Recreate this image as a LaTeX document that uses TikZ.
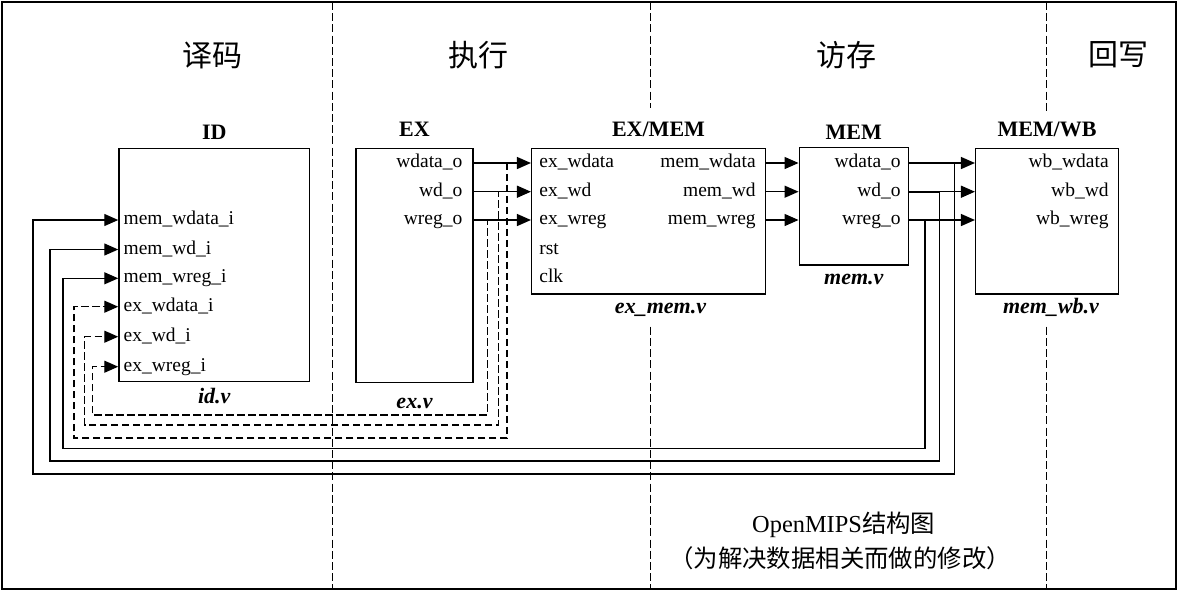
\documentclass[tikz,border=0pt]{standalone}
\usepackage{fontspec}
\setmainfont{Liberation Serif}
\newfontfamily\cjk{Noto Sans CJK SC}
\usetikzlibrary{arrows.meta}

\begin{document}
\begin{tikzpicture}[x=0.5pt, y=-0.5pt,
  block/.style={draw, line width=0.75pt, inner sep=0},
  port/.style={font=\fontsize{9.75}{11}\selectfont, inner sep=0},
  unit/.style={font=\fontsize{11}{13}\selectfont\bfseries, inner sep=0, anchor=base},
  file/.style={font=\fontsize{11}{13}\selectfont\bfseries\itshape, inner sep=0, anchor=base},
  stage/.style={font=\fontsize{15}{18}\selectfont\cjk, inner sep=0},
  note/.style={font=\fontsize{12.2}{15}\selectfont, inner sep=0},
  sig/.style={line width=0.65pt, -{Triangle[length=7pt, width=6pt]}},
  bypass/.style={sig, dash pattern=on 3.8pt off 1.7pt},
  divider/.style={line width=0.5pt, dash pattern=on 4pt off 1.6pt}]

  \useasboundingbox (0,0) rectangle (1179,591);
  \draw[line width=1pt] (2,2) rectangle (1176,588.5);

  % Pipeline stage dividers
  \draw[divider] (332,2) -- (332,588.5);
  \draw[divider] (650,2) -- (650,108.3);
  \draw[divider] (650,326.7) -- (650,588.5);
  \draw[divider] (1046,2) -- (1046,111.7);
  \draw[divider] (1046,326.7) -- (1046,588.5);

  % Stage names
  \node[stage] (decode) at (212,55) {译码};
  \node[stage] (execute) at (478,55) {执行};
  \node[stage] (memaccess) at (846,55) {访存};
  \node[stage] (writeback) at (1118,55) {回写};

  % Rows of the ports
  \coordinate (ra) at (0,163);
  \coordinate (rb) at (0,191.7);
  \coordinate (rc) at (0,220);
  \coordinate (rd) at (0,249.5);
  \coordinate (re) at (0,278.3);
  \coordinate (rf) at (0,306.7);
  \coordinate (rg) at (0,336.7);
  \coordinate (rh) at (0,366.7);

  % Modules
  \node[block, minimum width=95.3pt, minimum height=116.7pt] (id) at (214.3,265) {};
  \node[block, minimum width=58.5pt, minimum height=117pt] (ex) at (414.5,265.3) {};
  \node[block, minimum width=116.8pt, minimum height=72.85pt] (exmem) at (648.5,221.2) {};
  \node[block, minimum width=54.5pt, minimum height=58.65pt] (mem) at (853.8,206.3) {};
  \node[block, minimum width=71.3pt, minimum height=72.85pt] (memwb) at (1047,221.2) {};

  % Module names above, file names below
  \node[unit] (idname) at ([yshift=4pt]id.north) {ID};
  \node[unit] (exname) at ([yshift=5.5pt]ex.north) {EX};
  \node[unit] (exmemname) at ([xshift=5pt, yshift=5.5pt]exmem.north) {EX/MEM};
  \node[unit] (memname) at ([yshift=3.8pt]mem.north) {MEM};
  \node[unit] (memwbname) at ([yshift=5.5pt]memwb.north) {MEM/WB};
  \node[file] (idfile) at ([yshift=-10.5pt]id.south) {id.v};
  \node[file] (exfile) at ([yshift=-12.5pt]ex.south) {ex.v};
  \node[file] (exmemfile) at ([xshift=6pt, yshift=-9.5pt]exmem.south) {ex\_mem.v};
  \node[file] (memfile) at ([yshift=-9.5pt]mem.south) {mem.v};
  \node[file] (memwbfile) at ([xshift=2pt, yshift=-9.5pt]memwb.south) {mem\_wb.v};

  % Ports of id.v
  \node[port, anchor=mid west, xshift=2.5pt] (idmemwdata) at (id.west |- rc) {mem\_wdata\_i};
  \node[port, anchor=mid west, xshift=2.5pt] (idmemwd) at (id.west |- rd) {mem\_wd\_i};
  \node[port, anchor=mid west, xshift=2.5pt] (idmemwreg) at (id.west |- re) {mem\_wreg\_i};
  \node[port, anchor=mid west, xshift=2.5pt] (idexwdata) at (id.west |- rf) {ex\_wdata\_i};
  \node[port, anchor=mid west, xshift=2.5pt] (idexwd) at (id.west |- rg) {ex\_wd\_i};
  \node[port, anchor=mid west, xshift=2.5pt] (idexwreg) at (id.west |- rh) {ex\_wreg\_i};

  % Ports of ex.v
  \node[port, anchor=mid east, xshift=-5.5pt] (exwdata) at (ex.east |- ra) {wdata\_o};
  \node[port, anchor=mid east, xshift=-5.5pt] (exwd) at (ex.east |- rb) {wd\_o};
  \node[port, anchor=mid east, xshift=-5.5pt] (exwreg) at (ex.east |- rc) {wreg\_o};

  % Ports of ex_mem.v
  \node[port, anchor=mid west, xshift=4pt] (exmemin1) at (exmem.west |- ra) {ex\_wdata};
  \node[port, anchor=mid west, xshift=4pt] (exmemin2) at (exmem.west |- rb) {ex\_wd};
  \node[port, anchor=mid west, xshift=4pt] (exmemin3) at (exmem.west |- rc) {ex\_wreg};
  \node[port, anchor=mid west, xshift=4pt] (exmemrst) at (exmem.west |- rd) {rst};
  \node[port, anchor=mid west, xshift=4pt] (exmemclk) at (exmem.west |- re) {clk};
  \node[port, anchor=mid east, xshift=-5pt] (exmemout1) at (exmem.east |- ra) {mem\_wdata};
  \node[port, anchor=mid east, xshift=-5pt] (exmemout2) at (exmem.east |- rb) {mem\_wd};
  \node[port, anchor=mid east, xshift=-5pt] (exmemout3) at (exmem.east |- rc) {mem\_wreg};

  % Ports of mem.v
  \node[port, anchor=mid east, xshift=-4pt] (memwdata) at (mem.east |- ra) {wdata\_o};
  \node[port, anchor=mid east, xshift=-4pt] (memwd) at (mem.east |- rb) {wd\_o};
  \node[port, anchor=mid east, xshift=-4pt] (memwreg) at (mem.east |- rc) {wreg\_o};

  % Ports of mem_wb.v
  \node[port, anchor=mid east, xshift=-5pt] (wbwdata) at (memwb.east |- ra) {wb\_wdata};
  \node[port, anchor=mid east, xshift=-5pt] (wbwd) at (memwb.east |- rb) {wb\_wd};
  \node[port, anchor=mid east, xshift=-5pt] (wbwreg) at (memwb.east |- rc) {wb\_wreg};

  % Forward signals
  \draw[sig] (ex.east |- ra) -- (exmem.west |- ra);
  \draw[sig] (ex.east |- rb) -- (exmem.west |- rb);
  \draw[sig] (ex.east |- rc) -- (exmem.west |- rc);
  \draw[sig] (exmem.east |- ra) -- (mem.west |- ra);
  \draw[sig] (exmem.east |- rb) -- (mem.west |- rb);
  \draw[sig] (exmem.east |- rc) -- (mem.west |- rc);
  \draw[sig] (mem.east |- ra) -- (memwb.west |- ra);
  \draw[sig] (mem.east |- rb) -- (memwb.west |- rb);
  \draw[sig] (mem.east |- rc) -- (memwb.west |- rc);

  % Bypass from ex.v back to id.v (dashed)
  \draw[bypass] (ex.east |- ra) -| (507,438) -- (74,438) |- (id.west |- rf);
  \draw[bypass] (ex.east |- rb) -| (498.3,425) -- (84.5,425) |- (id.west |- rg);
  \draw[bypass] (ex.east |- rc) -| (487.3,415) -- (92.4,415) |- (id.west |- rh);

  % Bypass from mem.v back to id.v
  \draw[sig] (mem.east |- ra) -| (954.3,474) -- (33,474) |- (id.west |- rc);
  \draw[sig] ([yshift=-0.5pt]mem.east |- rb) -| (939.3,461) -- (50,461) |- (id.west |- rd);
  \draw[sig] (mem.east |- rc) -| (925,448.3) -- (63,448.3) |- (id.west |- re);

  % Caption
  \node[note] (title) at (843.7,525) {OpenMIPS{\cjk 结构图}};
  \node[note, font=\fontsize{12.2}{15}\selectfont\cjk] (subtitle) at (840,558) {（为解决数据相关而做的修改）};
\end{tikzpicture}
\end{document}
